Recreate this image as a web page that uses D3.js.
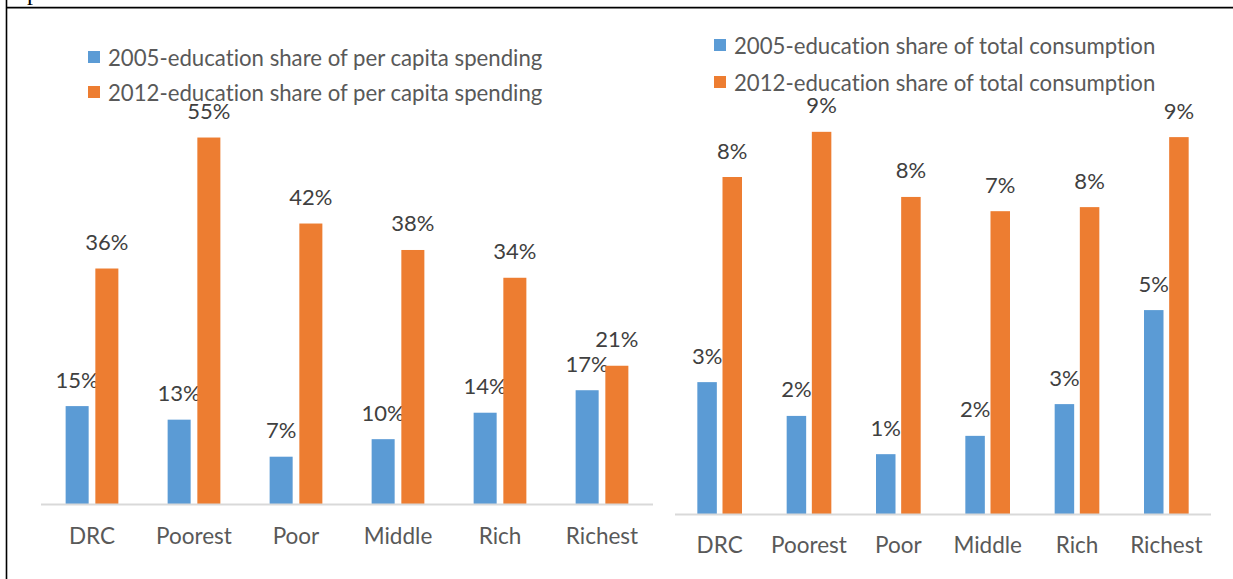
<!DOCTYPE html>
<html>
<head>
<meta charset="utf-8">
<script src="https://cdn.jsdelivr.net/npm/d3@7"></script>
<style>
  html, body { margin: 0; padding: 0; background: #fff; }
  svg { display: block; }
  text { font-family: Lato, "Open Sans", sans-serif; font-variant-ligatures: none; font-feature-settings: "liga" 0, "clig" 0; }
</style>
</head>
<body>
<svg id="chart" width="1233" height="579"></svg>
<script>
// Household groups shared by both panels
const categories = ["DRC", "Poorest", "Poor", "Middle", "Rich", "Richest"];

// Panel 1: education share of per capita spending (%)
const spending2005 = [14.8, 12.75, 7.15, 9.8, 13.8, 17.2];
const spending2012 = [35.6, 55.4, 42.4, 38.4, 34.2, 20.9];
const spendingLegend = [
  "2005-education share of per capita spending",
  "2012-education share of per capita spending"
];

// Panel 2: education share of total consumption (%)
const consumption2005 = [3.24, 2.41, 1.47, 1.92, 2.70, 5.01];
const consumption2012 = [8.28, 9.39, 7.79, 7.44, 7.54, 9.26];
const consumptionLegend = [
  "2005-education share of total consumption",
  "2012-education share of total consumption"
];

const seriesKeys = ["2005", "2012"];
const colors = d3.scaleOrdinal().domain(seriesKeys).range(["#5b9bd5", "#ed7d31"]);
const fmt = v => d3.format(".0f")(v) + "%";

const svg = d3.select("#chart");
svg.append("rect").attr("width", 1233).attr("height", 579).attr("fill", "#fff");

// Page frame and the clipped glyph from the line above
svg.append("line").attr("x1", 6.5).attr("x2", 6.5).attr("y1", 0).attr("y2", 579)
  .attr("stroke", "#000").attr("stroke-width", 1.6);
svg.append("line").attr("x1", 6).attr("x2", 1233).attr("y1", 7.6).attr("y2", 7.6)
  .attr("stroke", "#000").attr("stroke-width", 1.6);
svg.append("text").attr("x", 27).attr("y", 0)
  .style("font-family", "'Liberation Serif', serif").style("font-size", "24px")
  .attr("fill", "#000").text("p");

function drawPanel(cfg) {
  const g = svg.append("g");
  const rows = categories.map((c, i) => ({ cat: c, values: [cfg.a[i], cfg.b[i]] }));

  const x0 = d3.scaleBand().domain(categories).range([cfg.x0, cfg.x1])
    .paddingInner(cfg.groupPad).paddingOuter(cfg.groupPad / 2);
  const x1 = d3.scaleBand().domain(seriesKeys).range([0, x0.bandwidth()])
    .paddingInner(0.225);
  const y = d3.scaleLinear().domain([0, cfg.yMax]).range([cfg.base, cfg.base - cfg.yMax * cfg.pxPer]);

  // Bars
  const grp = g.selectAll("g.cat").data(rows).join("g")
    .attr("transform", d => `translate(${x0(d.cat)},0)`);
  const bars = grp.selectAll("g.bar")
    .data(d => d.values.map((v, j) => ({ key: seriesKeys[j], v })))
    .join("g");
  bars.append("rect")
    .attr("x", d => x1(d.key))
    .attr("width", x1.bandwidth())
    .attr("y", d => y(d.v))
    .attr("height", d => y(0) - y(d.v))
    .attr("fill", d => colors(d.key));
  bars.append("text")
    .attr("x", d => x1(d.key) + x1.bandwidth() / 2)
    .attr("y", d => y(d.v) - 18.5)
    .attr("text-anchor", "middle")
    .style("font-size", cfg.labelSize + "px")
    .attr("fill", "#404040")
    .text(d => fmt(d.v));

  // Category axis
  const axis = g.append("g").attr("transform", `translate(0,${cfg.base})`)
    .call(d3.axisBottom(x0).tickSize(0).tickPadding(0));
  axis.select(".domain").remove();
  g.append("line").attr("x1", cfg.x0).attr("x2", cfg.x1)
    .attr("y1", cfg.base + 0.5).attr("y2", cfg.base + 0.5)
    .attr("stroke", "#d9d9d9").attr("stroke-width", 2);
  axis.selectAll("text")
    .attr("y", cfg.catBaseline - cfg.base).attr("dy", 0)
    .style("font-family", "Lato, sans-serif")
    .style("font-size", cfg.catSize + "px")
    .attr("fill", "#595959");

  // Legend
  const leg = g.selectAll("g.legend").data(cfg.legend).join("g")
    .attr("transform", (d, i) => `translate(${cfg.legX},${cfg.legY + i * cfg.legStep})`);
  leg.append("rect").attr("x", 0).attr("y", -15).attr("width", 12).attr("height", 12)
    .attr("fill", (d, i) => colors(seriesKeys[i]));
  leg.append("text").attr("x", 20).attr("y", 0)
    .style("font-size", cfg.legendSize + "px")
    .attr("fill", "#595959").text(d => d);
}

drawPanel({
  a: spending2005, b: spending2012, legend: spendingLegend,
  x0: 41, x1: 653, groupPad: 0.483, base: 504, yMax: 60, pxPer: 6.615,
  catBaseline: 544, labelSize: 22, catSize: 22.5, legendSize: 22.2,
  legX: 88, legY: 66, legStep: 35
});

drawPanel({
  a: consumption2005, b: consumption2012, legend: consumptionLegend,
  x0: 675, x1: 1211, groupPad: 0.5, base: 514, yMax: 10, pxPer: 40.7,
  catBaseline: 553, labelSize: 22, catSize: 22.5, legendSize: 22.2,
  legX: 714, legY: 54, legStep: 37
});
</script>
</body>
</html>
